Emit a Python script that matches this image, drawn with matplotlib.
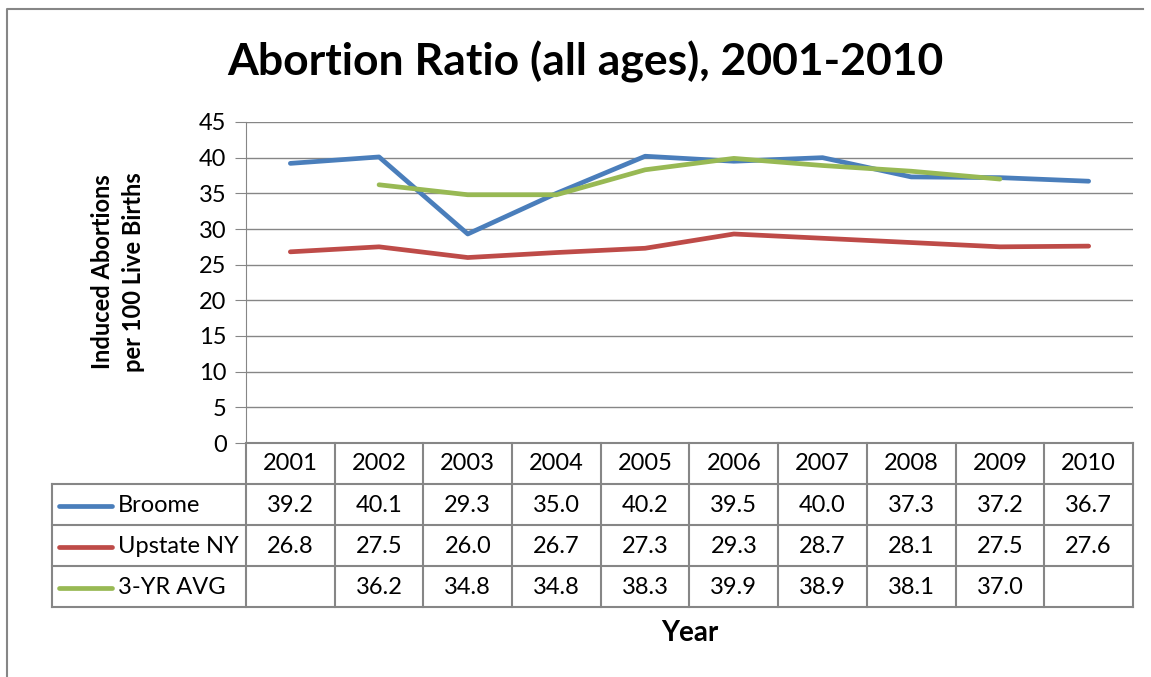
import numpy as np
import matplotlib
matplotlib.use("Agg")
import matplotlib.pyplot as plt
from matplotlib.lines import Line2D

years = [2001, 2002, 2003, 2004, 2005, 2006, 2007, 2008, 2009, 2010]
broome = [39.2, 40.1, 29.3, 35.0, 40.2, 39.5, 40.0, 37.3, 37.2, 36.7]
upstate = [26.8, 27.5, 26.0, 26.7, 27.3, 29.3, 28.7, 28.1, 27.5, 27.6]
avg3 = [None, 36.2, 34.8, 34.8, 38.3, 39.9, 38.9, 38.1, 37.0, None]
series_names = ["Broome", "Upstate NY", "3-YR AVG"]
colors = ["#4A7EBB", "#BE4B48", "#98B954"]

plt.rcParams['font.family'] = ['Lato', 'DejaVu Sans']
W, H = 1151, 677
fig = plt.figure(figsize=(W / 100, H / 100), dpi=100)

def fx(px):
    return px / W

def fy(py):
    return 1 - py / H

# plot area in pixels
L, R, T, B = 246, 1133, 122, 443
ax = fig.add_axes([fx(L), fy(B), fx(R - L), (B - T) / H])
n = len(years)
x = np.arange(n)
grid_c = "#868686"
for i, (vals, c) in enumerate(zip([broome, upstate, avg3], colors)):
    y = np.array([np.nan if v is None else v for v in vals])
    ax.plot(x, y, color=c, lw=3.4, solid_capstyle='round', zorder=3)
ax.set_xlim(-0.5, n - 0.5)
ax.set_ylim(0, 45)
ax.set_yticks(range(0, 46, 5))
ax.tick_params(axis='y', labelsize=17, length=8, color=grid_c, pad=6)
ax.set_xticks([])
ax.grid(axis='y', color=grid_c, lw=1)
for s in ['top', 'right', 'bottom']:
    ax.spines[s].set_visible(False)
ax.spines['left'].set_color(grid_c)

# data table below the plot
row_h = 41
col_w = (R - L) / n
tab_left = 52
fs = 17
rows_y = [B + row_h * k for k in range(5)]
lw_t = 1.5
def hline(px0, px1, py):
    fig.add_artist(Line2D([fx(px0), fx(px1)], [fy(py), fy(py)], color=grid_c, lw=lw_t))
def vline(px, py0, py1):
    fig.add_artist(Line2D([fx(px), fx(px)], [fy(py0), fy(py1)], color=grid_c, lw=lw_t))

hline(L, R, rows_y[0])
for k in range(1, 5):
    hline(tab_left, R, rows_y[k])
vline(tab_left, rows_y[1], rows_y[4])
for j in range(n + 1):
    vline(L + j * col_w, rows_y[0], rows_y[4])

for j, yr in enumerate(years):
    fig.text(fx(L + (j + 0.5) * col_w), fy(rows_y[0] + row_h / 2), str(yr),
             ha='center', va='center', fontsize=fs)
for i, (name, vals, c) in enumerate(zip(series_names, [broome, upstate, avg3], colors)):
    yc = rows_y[i + 1] + row_h / 2 + 1
    fig.add_artist(Line2D([fx(59), fx(112)], [fy(yc), fy(yc)], color=c, lw=3.4,
                          solid_capstyle='round'))
    fig.text(fx(118), fy(yc), name, ha='left', va='center', fontsize=fs)
    for j, v in enumerate(vals):
        if v is not None:
            fig.text(fx(L + (j + 0.5) * col_w), fy(yc), f"{v:.1f}",
                     ha='center', va='center', fontsize=fs)

fig.text(fx(585), fy(62), "Abortion Ratio (all ages), 2001-2010", ha='center', va='center',
         fontsize=32, fontweight='bold')
fig.text(fx(118), fy(272), "Induced Abortions\nper 100 Live Births", ha='center', va='center',
         rotation=90, fontsize=17, fontweight='bold', linespacing=1.45)
fig.text(fx(690), fy(633), "Year", ha='center', va='center', fontsize=20, fontweight='bold')

# outer frame
fig.add_artist(Line2D([fx(7), fx(7), fx(1143)], [fy(677), fy(9), fy(9)], color=grid_c, lw=1.5))

fig.savefig("out.png", dpi=100)
